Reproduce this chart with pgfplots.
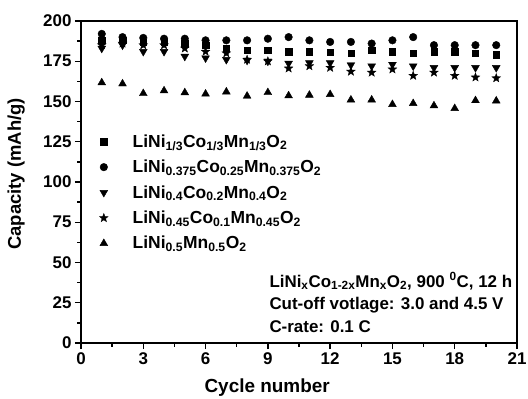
\documentclass[border=0pt]{standalone}
\usepackage{pgfplots}
\pgfplotsset{compat=1.18}
\usepackage{fontspec}
\setmainfont{Liberation Sans}
\makeatletter
\pgfdeclareplotmark{fstar}{%
  \pgfpathmoveto{\pgfpointpolar{90}{\pgfplotmarksize}}%
  \pgfpathlineto{\pgfpointpolar{126}{0.42\pgfplotmarksize}}%
  \pgfpathlineto{\pgfpointpolar{162}{\pgfplotmarksize}}%
  \pgfpathlineto{\pgfpointpolar{198}{0.42\pgfplotmarksize}}%
  \pgfpathlineto{\pgfpointpolar{234}{\pgfplotmarksize}}%
  \pgfpathlineto{\pgfpointpolar{270}{0.42\pgfplotmarksize}}%
  \pgfpathlineto{\pgfpointpolar{306}{\pgfplotmarksize}}%
  \pgfpathlineto{\pgfpointpolar{342}{0.42\pgfplotmarksize}}%
  \pgfpathlineto{\pgfpointpolar{18}{\pgfplotmarksize}}%
  \pgfpathlineto{\pgfpointpolar{54}{0.42\pgfplotmarksize}}%
  \pgfpathclose
  \pgfusepathqfillstroke}
\makeatother
\begin{document}
\begin{tikzpicture}
\begin{axis}[
  name=ax,
  scale only axis,
  width=436bp, height=322bp,
  xmin=0, xmax=21, ymin=0, ymax=200,
  xtick={0,3,...,21}, ytick={0,25,...,200},
  minor x tick num=1, minor y tick num=1,
  tick align=outside, tick pos=left,
  major tick length=6bp, minor tick length=3.5bp,
  axis line style={line width=1.8bp},
  every tick/.style={line width=1.3bp, black},
  /pgf/number format/assume math mode=true,
  tick label style={font=\fontsize{17}{19}\selectfont\bfseries},
  every axis y label/.style={at={(axis description cs:-0.149,0.525)}, rotate=90, anchor=center, font=\fontsize{18.5}{21}\selectfont\bfseries},
  every axis x label/.style={at={(axis description cs:0.427,-0.14)}, anchor=center, font=\fontsize{19}{21}\selectfont\bfseries},
  xlabel={Cycle number},
  ylabel={Capacity (mAh/g)},
  legend style={draw=none, fill=none, at={(rel axis cs:0.035,0.66)}, anchor=north west,
    font=\fontsize{17.5}{19}\selectfont\bfseries, row sep=7.3bp, cells={anchor=west}},
  legend image code/.code={\path[draw=none,fill=none] (0cm,0cm) -- (1.05cm,0cm); \draw[#1] plot coordinates {(0.1cm,0cm)};},
  clip=false,
]
\addplot[only marks, mark=square*, mark size=3.2bp, black] coordinates {
(1,188)(2,188)(3,187)(4,187)(5,186)(6,185)(7,183)(8,182)(9,182)(10,181)
(11,181)(12,180.5)(13,180)(14,182)(15,181)(16,180)(17,181)(18,181)(19,180)(20,179)};
\addlegendentry{LiNi\textsubscript{1/3}Co\textsubscript{1/3}Mn\textsubscript{1/3}O\textsubscript{2}}
\addplot[only marks, mark=*, mark size=3.8bp, black] coordinates {
(1,192)(2,190)(3,189.5)(4,189)(5,189)(6,188)(7,188)(8,188)(9,189)(10,190)
(11,188)(12,187)(13,187)(14,186)(15,188)(16,190)(17,185)(18,185)(19,185)(20,185)};
\addlegendentry{LiNi\textsubscript{0.375}Co\textsubscript{0.25}Mn\textsubscript{0.375}O\textsubscript{2}}
\addplot[only marks, mark=triangle*, mark size=4.5bp, mark options={rotate=180}, black] coordinates {
(1,183)(2,185)(3,181)(4,181)(5,178)(6,177)(7,176)(8,175.5)(9,175)(10,173.7)
(11,174)(12,174)(13,172.7)(14,172)(15,173)(16,172)(17,171)(18,171)(19,171)(20,171)};
\addlegendentry{LiNi\textsubscript{0.4}Co\textsubscript{0.2}Mn\textsubscript{0.4}O\textsubscript{2}}
\addplot[only marks, mark=fstar, mark size=4.6bp, mark options={line width=0.3bp}, black] coordinates {
(1,185)(2,186)(3,185)(4,185)(5,183)(6,181)(7,180)(8,176)(9,175)(10,170.6)
(11,172)(12,171)(13,168.6)(14,168)(15,170)(16,166)(17,168)(18,166)(19,165)(20,164.5)};
\addlegendentry{LiNi\textsubscript{0.45}Co\textsubscript{0.1}Mn\textsubscript{0.45}O\textsubscript{2}}
\addplot[only marks, mark=triangle*, mark size=4.5bp, black] coordinates {
(1,161.7)(2,161)(3,155)(4,156.7)(5,155.5)(6,154.7)(7,156)(8,153.4)(9,155.6)(10,153.6)
(11,154)(12,154.4)(13,151)(14,151)(15,148.2)(16,148.8)(17,147.4)(18,145.7)(19,150.6)(20,150.4)};
\addlegendentry{LiNi\textsubscript{0.5}Mn\textsubscript{0.5}O\textsubscript{2}}
\node[anchor=base west, align=left, inner sep=0pt, font=\fontsize{17}{22.5}\selectfont\bfseries]
  at (axis cs:9.07,6.8) {LiNi\textsubscript{x}Co\textsubscript{1-2x}Mn\textsubscript{x}O\textsubscript{2}, 900 \textsuperscript{0}C, 12 h\\
  Cut-off votlage: 3.0 and 4.5 V\\ C-rate: 0.1 C};
\end{axis}
\pgfresetboundingbox
\path ([shift={(-81bp,-56bp)}]ax.south west) rectangle ++(528bp,399bp);
\end{tikzpicture}
\end{document}
